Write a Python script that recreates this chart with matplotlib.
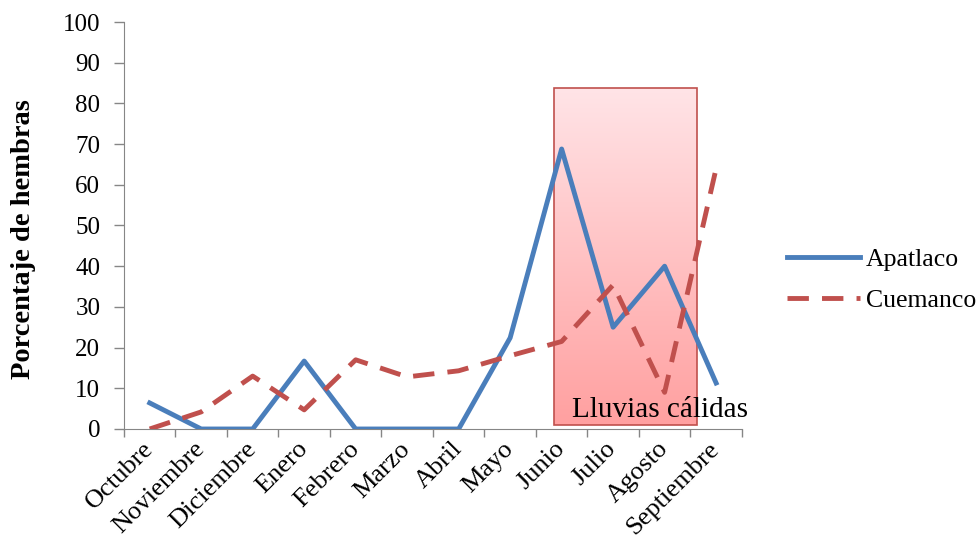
import matplotlib.pyplot as plt
import numpy as np
from matplotlib.patches import Rectangle
from matplotlib.colors import LinearSegmentedColormap

plt.rcParams['font.family'] = ['Liberation Serif', 'DejaVu Serif']

meses = ['Octubre', 'Noviembre', 'Diciembre', 'Enero', 'Febrero', 'Marzo',
         'Abril', 'Mayo', 'Junio', 'Julio', 'Agosto', 'Septiembre']
apatlaco = [6.4, 0, 0, 16.7, 0, 0, 0, 22.4, 68.8, 25, 40, 11.3]
cuemanco = [0, 4.2, 13, 4.7, 17, 12.8, 14.3, 18, 21.5, 35.4, 9, 64]

# recuadro de lluvias calidas (en coordenadas de datos)
lluvias_x = [7.86, 10.62]
lluvias_y = [1.0, 83.8]

fig = plt.figure(figsize=(9.8, 5.46), dpi=100)
ax = fig.add_axes([0.1265, 0.2143, 0.757 - 0.1265, 0.9597 - 0.2143])

x = np.arange(len(meses))

# degradado rosa del recuadro
cmap = LinearSegmentedColormap.from_list('rosa', ['#FFA0A0', '#FFE4E7'])
grad = np.linspace(0, 1, 256).reshape(-1, 1)
ax.imshow(grad, cmap=cmap, origin='lower', aspect='auto', zorder=1,
          extent=[lluvias_x[0], lluvias_x[1], lluvias_y[0], lluvias_y[1]])
ax.add_patch(Rectangle((lluvias_x[0], lluvias_y[0]), lluvias_x[1] - lluvias_x[0],
                       lluvias_y[1] - lluvias_y[0], fill=False,
                       edgecolor='#C0504D', lw=1.2, zorder=2))

ax.plot(x, apatlaco, color='#4A7EBB', lw=3.5, label='Apatlaco', zorder=3)
ax.plot(x, cuemanco, color='#C0504D', lw=3.5, ls=(0, (4.4, 2.7)),
        label='Cuemanco', zorder=3)

ax.text(11.61, 2.9, 'Lluvias cálidas', fontsize=21, ha='right', va='baseline',
        zorder=4)

ax.set_xlim(-0.5, 11.5)
ax.set_ylim(0, 100)
ax.set_yticks(np.arange(0, 101, 10))
ax.set_xticks(x)
ax.set_xticklabels(meses, rotation=45, ha='right', va='center',
                   rotation_mode='anchor', fontsize=19)
ax.set_xticks(np.arange(-0.5, 12, 1), minor=True)
ax.tick_params(axis='x', which='major', length=0, pad=12)
ax.tick_params(axis='x', which='minor', length=6, color='#868686', width=1,
               direction='out')
ax.tick_params(axis='y', length=7, color='#868686', width=1, labelsize=18,
               pad=10)

for s in ['top', 'right']:
    ax.spines[s].set_visible(False)
for s in ['left', 'bottom']:
    ax.spines[s].set_color('#868686')

ax.set_ylabel('Porcentaje de hembras', fontsize=20.5, fontweight='bold')
ax.yaxis.set_label_coords(-0.142, 0.467)

ax.legend(loc='center left', bbox_to_anchor=(0.803, 0.487),
          bbox_transform=fig.transFigure, borderaxespad=0, borderpad=0,
          frameon=False, fontsize=18.5, handlelength=2.84, handletextpad=0.23,
          labelspacing=0.7)

fig.savefig('out.png', dpi=100)
